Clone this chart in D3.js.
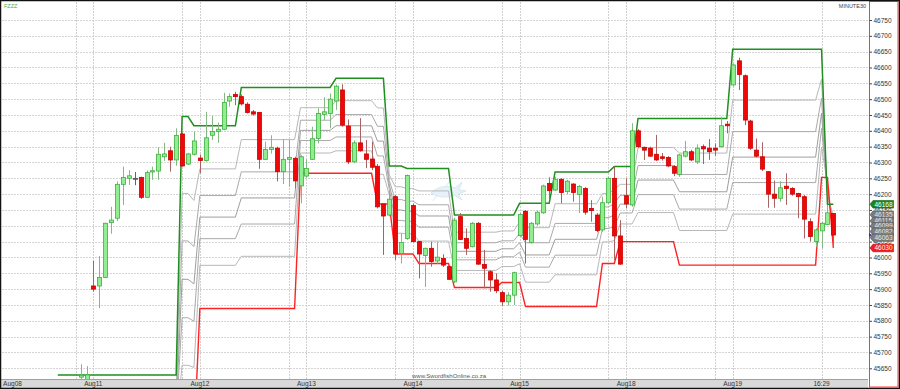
<!DOCTYPE html>
<html>
<head>
<meta charset="utf-8">
<script src="https://cdn.jsdelivr.net/npm/d3@7"></script>
<style>
  body { margin: 0; background: #fff; }
  svg text { font-family: "Liberation Sans", Arial, sans-serif; }
</style>
</head>
<body>
<div id="chart"></div>
<script>
// ---------------------------------------------------------------
// FZZZ 30-minute candles with a channel (upper/lower) and
// Fibonacci levels between the two channel lines
// ---------------------------------------------------------------

// bar index of the first candle (0 = Aug11 label bar)
const firstBar = -2;

const opens  = [45622, 45615,
  45910, 45910, 45937, 46110, 46124, 46231, 46250, 46250, 46253, 46190,
  46270, 46273, 46318, 46337, 46308, 46390, 46295, 46326, 46314, 46306,
  46386, 46398, 46405, 46494, 46515, 46508, 46484, 46460, 46458, 46310,
  46341, 46345, 46271, 46310, 46313, 46226, 46257, 46310, 46376, 46452,
  46455, 46494, 46529, 46415, 46302, 46362, 46327, 46311, 46288, 46169,
  46134, 46192, 46013, 46060, 46164, 46050, 46006, 46029, 45989, 45997,
  45971, 45923, 46129, 46060, 46034, 46108, 45978, 45955, 45929, 45889,
  45860, 45881, 46069, 46146, 46047, 46106, 46141, 46234, 46213, 46247,
  46208, 46232, 46199, 46218, 46155, 46134, 46087, 46173, 46250, 46068,
  46195, 46166, 46400, 46348, 46345, 46326, 46318, 46316, 46287, 46262,
  46320, 46334, 46302, 46350, 46345, 46345, 46350, 46421, 46545, 46621,
  46574, 46431, 46339, 46318, 46271, 46200, 46187, 46225, 46218, 46202,
  46192, 46113, 46050, 46084, 46104, 46139];
const highs  = [45663, 45657,
  45990, 46005, 46110, 46160, 46240, 46287, 46276, 46270, 46255, 46275,
  46287, 46348, 46362, 46350, 46408, 46392, 46330, 46398, 46325, 46460,
  46447, 46426, 46520, 46518, 46523, 46515, 46490, 46466, 46460, 46366,
  46386, 46350, 46374, 46371, 46318, 46323, 46310, 46413, 46471, 46506,
  46518, 46546, 46547, 46436, 46370, 46440, 46371, 46366, 46295, 46171,
  46210, 46197, 46076, 46262, 46170, 46052, 46031, 46050, 46050, 46010,
  45976, 46125, 46140, 46092, 46112, 46112, 46024, 45960, 45950, 45895,
  45890, 45955, 46140, 46150, 46112, 46148, 46230, 46253, 46255, 46250,
  46245, 46234, 46229, 46222, 46181, 46140, 46192, 46255, 46287, 46118,
  46250, 46424, 46405, 46350, 46350, 46387, 46330, 46320, 46292, 46327,
  46368, 46340, 46357, 46357, 46374, 46360, 46445, 46431, 46612, 46631,
  46578, 46435, 46376, 46364, 46273, 46243, 46241, 46266, 46222, 46204,
  46197, 46124, 46092, 46113, 46166, 46140];
const lows   = [45616, 45613,
  45892, 45840, 45935, 46075, 46115, 46166, 46229, 46228, 46185, 46188,
  46245, 46245, 46305, 46271, 46290, 46287, 46292, 46322, 46266, 46303,
  46371, 46362, 46402, 46476, 46481, 46480, 46455, 46448, 46280, 46308,
  46328, 46240, 46232, 46224, 46218, 46171, 46252, 46308, 46360, 46434,
  46408, 46466, 46413, 46295, 46298, 46334, 46282, 46276, 46155, 46008,
  46130, 45992, 45981, 46056, 46048, 45934, 45907, 45971, 45981, 45970,
  45930, 45920, 46055, 46008, 46032, 45977, 45902, 45892, 45887, 45847,
  45848, 45850, 46066, 45981, 46044, 46100, 46138, 46181, 46210, 46171,
  46200, 46176, 46140, 46135, 46113, 46080, 46081, 46170, 45992, 45977,
  46155, 46160, 46345, 46308, 46318, 46305, 46306, 46285, 46257, 46255,
  46316, 46304, 46295, 46295, 46308, 46321, 46347, 46392, 46540, 46529,
  46418, 46340, 46316, 46273, 46157, 46157, 46176, 46166, 46195, 46124,
  46060, 46050, 46034, 46029, 46102, 46031];
const closes = [45628, 45629,
  45900, 45937, 46108, 46118, 46231, 46253, 46258, 46250, 46190, 46268,
  46274, 46326, 46327, 46308, 46385, 46289, 46327, 46368, 46306, 46378,
  46398, 46405, 46490, 46508, 46508, 46485, 46458, 46453, 46310, 46341,
  46348, 46271, 46310, 46316, 46242, 46318, 46281, 46375, 46455, 46460,
  46500, 46541, 46418, 46302, 46362, 46337, 46310, 46285, 46160, 46131,
  46184, 46011, 46047, 46259, 46050, 46011, 46029, 45987, 46001, 45976,
  45931, 46118, 46057, 46029, 46108, 45979, 45966, 45929, 45895, 45860,
  45881, 45952, 46136, 46057, 46108, 46143, 46226, 46211, 46247, 46205,
  46241, 46205, 46224, 46143, 46148, 46085, 46173, 46250, 46068, 45979,
  46169, 46400, 46350, 46339, 46320, 46308, 46313, 46289, 46266, 46324,
  46334, 46308, 46345, 46343, 46334, 46339, 46416, 46416, 46608, 46578,
  46434, 46345, 46320, 46279, 46200, 46187, 46220, 46218, 46200, 46192,
  46121, 46066, 46087, 46108, 46141, 46071];

// channel lines as [bar, price] vertices
const upperBand = [[-6, 45629], [14, 45629], [15, 46445], [16, 46445], [17, 46416],
  [24, 46416], [25, 46537], [40, 46537], [41, 46566], [49, 46566], [50, 46289],
  [52, 46289], [53, 46281], [60, 46281], [61, 46134], [71, 46134], [72, 46171],
  [77, 46171], [78, 46270], [87, 46270], [88, 46287], [91, 46287], [92, 46439],
  [107, 46439], [108, 46658], [123, 46658], [124, 46168], [125, 46168]];
const lowerBand = [[-6, 45417], [17, 45417], [18, 45839], [34, 45839], [35, 46266],
  [47, 46266], [48, 46169], [50, 46169], [51, 46011], [54, 46011], [55, 45981],
  [60, 45981], [61, 45905], [68, 45905], [69, 45921], [72, 45921], [73, 45845],
  [85, 45845], [86, 45981], [88, 45981], [89, 46050], [98, 46050], [99, 45976],
  [122, 45976], [123, 46253], [124, 46253], [125, 46030]];
const fibLevels = [0.236, 0.382, 0.5, 0.618, 0.764];

// last values shown on the price scale
const upperLast = 46168;
const fibLast = [46135, 46115, 46099, 46082, 46063];
const lowerLast = 46030;

// x axis: day labels and the bar where each label sits
const dayLabels = ["Aug08", "Aug11", "Aug12", "Aug13", "Aug14", "Aug15", "Aug18", "Aug19"];
const dayBars = [-18, 0, 18, 36, 54, 72, 90, 108];
const cursorLabel = "16:29";
const cursorBar = 123;

const priceTicks = [45650, 45700, 45750, 45800, 45850, 45900, 45950, 46000, 46050,
  46100, 46150, 46200, 46250, 46300, 46350, 46400, 46450, 46500, 46550, 46600,
  46650, 46700, 46750];

// -------------------------------------------------------------
const W = 900, H = 389;
const plot = {left: 2, right: 868, top: 2, bottom: 379};

const svg = d3.select("#chart").append("svg")
  .attr("width", W).attr("height", H);

const x = d3.scaleLinear().domain([-15.25, 130.85]).range([3, 868]);
const y = d3.scaleLinear().domain([45650, 46750]).range([368.3, 20]);

svg.append("rect").attr("width", W).attr("height", H).attr("fill", "#fff");

svg.append("clipPath").attr("id", "plotclip")
  .append("rect")
  .attr("x", plot.left).attr("y", plot.top)
  .attr("width", plot.right - plot.left).attr("height", plot.bottom - plot.top);

const g = svg.append("g").attr("clip-path", "url(#plotclip)");

// horizontal grid
g.selectAll("line.hgrid").data(priceTicks).join("line")
  .attr("class", "hgrid")
  .attr("x1", plot.left).attr("x2", plot.right)
  .attr("y1", d => Math.round(y(d)) + 0.5).attr("y2", d => Math.round(y(d)) + 0.5)
  .attr("stroke", "#d4d4d4").attr("stroke-dasharray", "2,1");

// vertical grid: day start and label bar
const vBars = [];
dayBars.forEach(b => { vBars.push(b - 3); vBars.push(b); });
vBars.push(cursorBar);
g.selectAll("line.vgrid").data(vBars).join("line")
  .attr("class", "vgrid")
  .attr("x1", d => Math.round(x(d)) + 0.5).attr("x2", d => Math.round(x(d)) + 0.5)
  .attr("y1", plot.top).attr("y2", plot.bottom)
  .attr("stroke", "#d0d0d0").attr("stroke-dasharray", "2,1");

// faint logo
g.append("path")
  .attr("d", "M431,193 C438,186 448,185 455,188 L462,182 L459,190 L466,191 L458,194 L462,200 L454,195 C447,198 439,198 431,193 Z M437,195 L433,201 M446,186 L452,178")
  .attr("fill", "#e6f2f8").attr("stroke", "#cfe4ef").attr("stroke-width", 0.8);

// watermark
g.append("text")
  .attr("x", 449).attr("y", 377.5)
  .attr("text-anchor", "middle")
  .style("font-size", "6px").attr("fill", "#555")
  .text("www.SwordfishOnline.co.za");

// channel lines and Fibonacci levels
function valueAt(band, i) {
  if (i <= band[0][0]) return band[0][1];
  for (let k = 1; k < band.length; k++) {
    if (i <= band[k][0]) {
      const a = band[k - 1], b = band[k];
      return a[1] + (b[1] - a[1]) * (i - a[0]) / (b[0] - a[0]);
    }
  }
  return band[band.length - 1][1];
}
const joints = Array.from(new Set(upperBand.map(d => d[0]).concat(lowerBand.map(d => d[0]))))
  .sort((a, b) => a - b);
const fibLines = fibLevels.map(f => joints.map(i => {
  const hi = valueAt(upperBand, i), lo = valueAt(lowerBand, i);
  return [i, lo + f * (hi - lo)];
}));

const line = d3.line().x(d => x(d[0])).y(d => y(d[1]));
const fibColors = ["#b8b8b8", "#aaaaaa", "#9e9e9e", "#aaaaaa", "#b8b8b8"];

g.selectAll("path.fib").data(fibLines).join("path")
  .attr("class", "fib")
  .attr("d", line)
  .attr("fill", "none")
  .attr("stroke", (d, k) => fibColors[k])
  .attr("stroke-width", 1);

g.append("path").datum(lowerBand)
  .attr("d", line).attr("fill", "none")
  .attr("stroke", "#ff2222").attr("stroke-width", 1.4);

g.append("path").datum(upperBand)
  .attr("d", line).attr("fill", "none")
  .attr("stroke", "#1f8f1f").attr("stroke-width", 1.5);

// candles
const bars = opens.map((o, k) => ({
  i: firstBar + k, o: o, h: highs[k], l: lows[k], c: closes[k]
}));
const wickColor = d => d.c > d.o ? "#86b886" : (d.c < d.o ? "#a86464" : "#666");

const cg = g.append("g");
cg.selectAll("line.wick").data(bars).join("line")
  .attr("class", "wick")
  .attr("x1", d => Math.round(x(d.i)) + 0.5).attr("x2", d => Math.round(x(d.i)) + 0.5)
  .attr("y1", d => y(d.h)).attr("y2", d => y(d.l))
  .attr("stroke", wickColor).attr("stroke-width", 1);

cg.selectAll("rect.body").data(bars).join("rect")
  .attr("class", "body")
  .attr("x", d => Math.round(x(d.i)) - 1.5)
  .attr("y", d => y(Math.max(d.o, d.c)))
  .attr("width", 4)
  .attr("height", d => Math.max(1, Math.abs(y(d.o) - y(d.c))))
  .attr("fill", d => d.c > d.o ? "#90ee90" : (d.c < d.o ? "#ee0808" : "#777"))
  .attr("stroke", d => d.c > d.o ? "#3fae3f" : (d.c < d.o ? "#cc0000" : "#555"))
  .attr("stroke-width", 0.8);

// bottom axis bar
svg.append("rect")
  .attr("x", 0).attr("y", plot.bottom)
  .attr("width", plot.right).attr("height", H - plot.bottom)
  .attr("fill", "#d9d9d9");
svg.append("line")
  .attr("x1", 0).attr("x2", plot.right)
  .attr("y1", plot.bottom + 0.5).attr("y2", plot.bottom + 0.5)
  .attr("stroke", "#a0a0a0");

svg.selectAll("text.day").data(dayLabels).join("text")
  .attr("class", "day")
  .attr("x", (d, k) => Math.max(12.5, x(dayBars[k])))
  .attr("y", 386)
  .attr("text-anchor", "middle")
  .style("font-size", "6.5px").attr("fill", "#333")
  .text(d => d);

svg.append("text")
  .attr("x", x(cursorBar)).attr("y", 386)
  .attr("text-anchor", "middle")
  .style("font-size", "6.5px").attr("fill", "#333")
  .text(cursorLabel);

// right price scale
svg.append("rect")
  .attr("x", 869.5).attr("y", 1.5)
  .attr("width", 28.5).attr("height", 385.5)
  .attr("fill", "#fff").attr("stroke", "#ff3b3b").attr("stroke-width", 1);

const axis = svg.append("g")
  .attr("transform", "translate(869.5,0)")
  .call(d3.axisRight(y).tickValues(priceTicks).tickSize(2.5).tickPadding(1.5).tickFormat(d3.format("d")));
axis.select(".domain").remove();
axis.selectAll("line").attr("stroke", "#444");
axis.selectAll("text").style("font-size", "6.5px").attr("fill", "#333")
  .style("font-family", "Liberation Sans, Arial, sans-serif");

// last-value tags
function tag(v, fill, stroke, txt) {
  const cy = y(v);
  const t = svg.append("g");
  t.append("path")
    .attr("d", `M870,${cy} L873,${cy - 3.8} L893.5,${cy - 3.8} L893.5,${cy + 3.8} L873,${cy + 3.8} Z`)
    .attr("fill", fill).attr("stroke", stroke).attr("stroke-width", 0.6);
  t.append("text")
    .attr("x", 874.5).attr("y", cy + 2.3)
    .style("font-size", "6.5px").attr("fill", txt)
    .text(v);
}
tag(upperLast, "#1c861c", "#0f5f0f", "#fff");
fibLast.forEach(v => tag(v, "#7b7b7b", "#555", "#e8e8e8"));
tag(lowerLast, "#ee1c1c", "#b00", "#fff");

// last close marker
const lastY = y(closes[closes.length - 1]);
svg.append("path")
  .attr("d", `M869,${lastY - 2} L872,${lastY} L869,${lastY + 2} Z`)
  .attr("fill", "#2233bb");

// corner texts
svg.append("text").attr("x", 4).attr("y", 8)
  .style("font-size", "5.5px").attr("fill", "#4caf50").text("FZZZ");
svg.append("text").attr("x", 866).attr("y", 8)
  .attr("text-anchor", "end")
  .style("font-size", "5.5px").attr("fill", "#444").text("MINUTE30");

// outer frame
svg.append("rect")
  .attr("x", 0.5).attr("y", 0.5).attr("width", W - 1).attr("height", H - 1)
  .attr("fill", "none").attr("stroke", "#111").attr("stroke-width", 1.5);
</script>
</body>
</html>
